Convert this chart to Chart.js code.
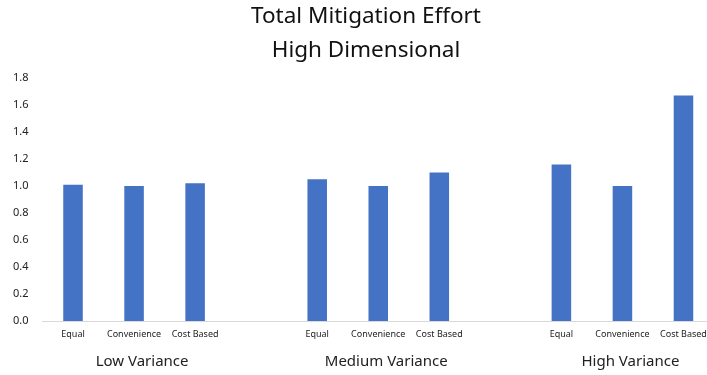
<!DOCTYPE html>
<html>
<head>
<meta charset="utf-8">
<script src="https://cdn.jsdelivr.net/npm/chart.js@4.4.1/dist/chart.umd.min.js"></script>
<style>
  html, body { margin: 0; padding: 0; background: #fff; overflow: hidden; }
  #wrap { width: 716px; height: 375px; }
</style>
</head>
<body>
<div id="wrap"><canvas id="chart" width="716" height="375"></canvas></div>
<script>
// categories, blank slots keep the gap between the variance groups
const categories = ['Equal', 'Convenience', 'Cost Based', '',
                    'Equal', 'Convenience', 'Cost Based', '',
                    'Equal', 'Convenience', 'Cost Based'];
const effort = [1.01, 1.00, 1.02, null, 1.05, 1.00, 1.10, null, 1.16, 1.00, 1.67];
const groups = ['Low Variance', 'Medium Variance', 'High Variance'];
const groupMiddle = [1, 5, 9];   // index of the middle bar of each group
const yTicks = [0, 0.2, 0.4, 0.6, 0.8, 1.0, 1.2, 1.4, 1.6, 1.8];
const titleLines = ['Total Mitigation Effort', 'High Dimensional'];

const fontFam = "'Noto Sans', 'DejaVu Sans', sans-serif";

// title (slightly right of canvas centre, like the original) and group names
const extraText = {
  id: 'extraText',
  afterDraw(chart) {
    const ctx = chart.ctx;
    const x = chart.scales.x;
    ctx.save();
    ctx.fillStyle = '#111';
    ctx.textAlign = 'center';
    ctx.textBaseline = 'middle';
    ctx.font = '22.5px ' + fontFam;
    titleLines.forEach(function(t, i) {
      ctx.fillText(t, 366, 17 + i * 34);
    });
    ctx.fillStyle = '#222';
    ctx.font = '15px ' + fontFam;
    groups.forEach(function(g, i) {
      ctx.fillText(g, x.getPixelForValue(groupMiddle[i]) + 8, 362);
    });
    ctx.restore();
  }
};

const ctx = document.getElementById('chart').getContext('2d');
new Chart(ctx, {
  type: 'bar',
  data: {
    labels: categories,
    datasets: [{
      data: effort,
      backgroundColor: '#4472C4',
      barPercentage: 0.32,
      categoryPercentage: 1.0
    }]
  },
  options: {
    responsive: false,
    animation: false,
    layout: { padding: { left: 0, right: 2, top: 78, bottom: 0 } },
    plugins: {
      legend: { display: false },
      tooltip: { enabled: false },
      title: { display: false }
    },
    scales: {
      x: {
        grid: { display: false, drawTicks: false },
        border: { display: true, color: '#d9d9d9', width: 1 },
        ticks: {
          color: '#222',
          font: { family: fontFam, size: 9 },
          padding: 8,
          maxRotation: 0,
          autoSkip: false
        },
        afterFit(scale) { scale.height = 54; }
      },
      y: {
        min: 0,
        max: 1.8,
        grid: { display: false, drawTicks: false },
        border: { display: false },
        afterBuildTicks(scale) {
          scale.ticks = yTicks.map(function(v) { return { value: v }; });
        },
        ticks: {
          color: '#222',
          font: { family: fontFam, size: 11 },
          padding: 14,
          callback: function(v) { return Number(v).toFixed(1); }
        },
        afterFit(scale) { scale.width = 42.5; }
      }
    }
  },
  plugins: [extraText]
});
</script>
</body>
</html>
